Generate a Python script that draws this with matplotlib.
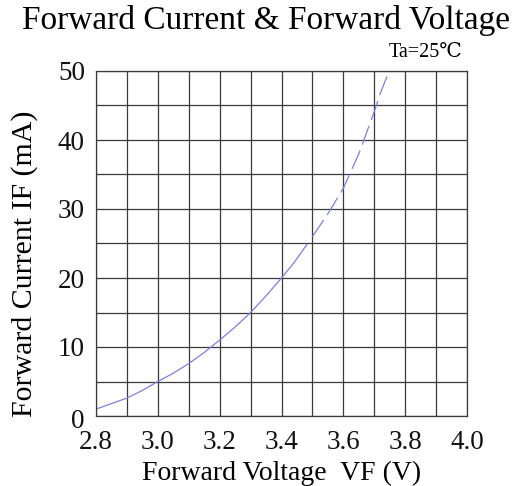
import matplotlib
matplotlib.use("Agg")
import matplotlib.pyplot as plt
from matplotlib.ticker import MultipleLocator
from matplotlib.transforms import ScaledTranslation

plt.rcParams['font.family'] = ['Liberation Serif', 'DejaVu Serif']

# curve: solid part, then dashed part
vf_solid = [2.80, 2.85, 2.90, 2.95, 3.00, 3.05, 3.10, 3.15, 3.20, 3.25, 3.30, 3.35, 3.40, 3.44, 3.483]
if_solid = [1.0, 1.8, 2.6, 3.7, 5.0, 6.2, 7.6, 9.2, 11.0, 12.9, 15.0, 17.4, 20.0, 22.2, 24.9]
vf_dash = [3.50, 3.55, 3.60, 3.65, 3.70, 3.72, 3.748]
if_dash = [26.0, 29.3, 33.0, 38.0, 44.1, 46.8, 50.0]

x_ticks = [2.8, 3.0, 3.2, 3.4, 3.6, 3.8, 4.0]
y_ticks = [0, 10, 20, 30, 40, 50]

fig = plt.figure(figsize=(5.21, 4.86), dpi=100)
ax = fig.add_axes([96/521, 1-416/486, (467-96)/521, (416-71)/486])

ax.plot(vf_solid, if_solid, color='#7f7fe0', lw=0.9)
ax.plot(vf_dash, if_dash, color='#7f7fe0', lw=0.9, dashes=(16, 5))

ax.set_xlim(2.8, 4.0)
ax.set_ylim(0, 50)
ax.set_xticks(x_ticks)
ax.set_xticklabels(['%.1f' % v for v in x_ticks])
ax.set_yticks(y_ticks)
ax.xaxis.set_minor_locator(MultipleLocator(0.1))
ax.yaxis.set_minor_locator(MultipleLocator(5))
ax.grid(True, which='both', color='#3a3a3a', lw=0.9)
ax.tick_params(which='both', length=0, labelsize=19.5, colors='#111111')
ax.tick_params(axis='x', pad=10)
ax.tick_params(axis='y', pad=8)
for s in ax.spines.values():
    s.set_color('#3a3a3a')
    s.set_linewidth(0.9)

# the "0" sits a touch lower than its grid line in the original
lab0 = ax.get_yticklabels()[0]
lab0.set_transform(lab0.get_transform() + ScaledTranslation(0, -2/72, fig.dpi_scale_trans))

ax.set_xlabel('Forward Voltage  VF (V)', fontsize=20, labelpad=4)
ax.set_ylabel('Forward Current IF (mA)', fontsize=21.5)
ax.yaxis.set_label_coords(-0.155, 0.44)

fig.text(0.51, 1-20/486, 'Forward Current & Forward Voltage', ha='center', va='center', fontsize=24)
fig.text(462/521, 1-57/486, 'Ta=25℃', ha='right', va='baseline', fontsize=14.5)

fig.savefig('out.png', dpi=100)
